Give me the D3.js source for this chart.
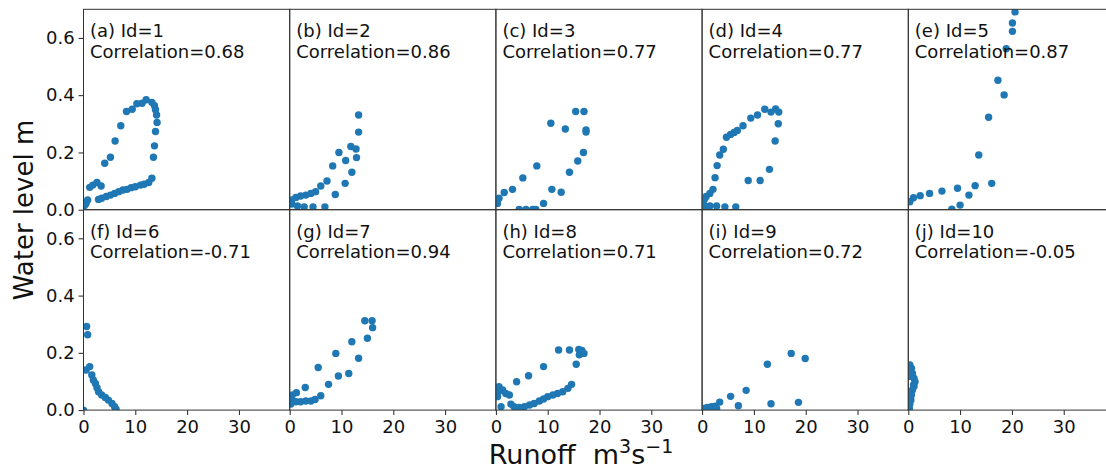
<!DOCTYPE html>
<html>
<head>
<meta charset="utf-8">
<script src="https://cdn.jsdelivr.net/npm/d3@7"></script>
<style>
  body { margin: 0; background: #fff; }
  svg { display: block; font-family: "DejaVu Sans", sans-serif; }
</style>
</head>
<body>
<script>
// panel labels and correlations
let panelLetters = ["a", "b", "c", "d", "e", "f", "g", "h", "i", "j"];
let panelIds = [1, 2, 3, 4, 5, 6, 7, 8, 9, 10];
let correlations = ["0.68", "0.86", "0.77", "0.77", "0.87", "-0.71", "0.94", "0.71", "0.72", "-0.05"];
let xTicks = [0, 10, 20, 30];
let yTicks = [0, 0.2, 0.4, 0.6];

// runoff (m3/s) and water level (m) per station
let runoff1 = [0.2, 0.5, 0.8, 1.2, 1.8, 2.6, 3.4, 4.1, 5.2, 6.1, 7.2, 8.3, 9.4, 10.3, 11.3, 12.1, 13.2, 13.7, 13.9, 14.1, 14.2, 13.9, 13.7, 13.5, 2.9, 3.5, 4.4, 5.2, 6.0, 6.8, 7.6, 8.4, 9.2, 10.0, 11.0, 11.7, 12.6, 13.2];
let level1 = [0.015, 0.022, 0.034, 0.078, 0.086, 0.095, 0.083, 0.162, 0.183, 0.24, 0.293, 0.343, 0.351, 0.37, 0.372, 0.384, 0.375, 0.363, 0.349, 0.331, 0.305, 0.273, 0.223, 0.183, 0.036, 0.04, 0.046, 0.051, 0.057, 0.063, 0.069, 0.071, 0.077, 0.08, 0.086, 0.089, 0.095, 0.11];
let runoff2 = [13.3, 13.3, 11.8, 12.8, 12.9, 9.5, 10.8, 8.3, 12.0, 7.2, 10.7, 8.8, 6.0, 5.0, 4.1, 3.1, 2.1, 1.2, 0.4, 0.4, 1.5, 2.8, 4.5, 6.8];
let level2 = [0.331, 0.271, 0.221, 0.212, 0.182, 0.2, 0.172, 0.153, 0.131, 0.1, 0.092, 0.053, 0.083, 0.063, 0.057, 0.051, 0.048, 0.043, 0.034, 0.02, 0.013, 0.01, 0.01, 0.01];
let runoff3 = [15.4, 17.0, 10.6, 13.4, 17.4, 17.4, 16.9, 15.8, 14.2, 7.9, 5.2, 3.2, 1.6, 0.6, 0.3, 10.8, 12.6, 9.2, 4.5, 5.8, 7.1, 7.7];
let level3 = [0.343, 0.343, 0.302, 0.282, 0.279, 0.271, 0.2, 0.17, 0.131, 0.153, 0.111, 0.071, 0.06, 0.04, 0.022, 0.071, 0.061, 0.022, 0.001, 0.001, 0.001, 0.001];
let runoff4 = [0.4, 0.8, 1.5, 2.1, 2.5, 2.9, 3.4, 4.1, 4.7, 5.5, 6.2, 6.8, 7.9, 9.4, 10.7, 12.1, 13.3, 14.2, 14.8, 14.7, 14.1, 13.0, 11.2, 8.9, 0.5, 1.5, 2.8, 4.4, 6.5];
let level4 = [0.035, 0.046, 0.057, 0.071, 0.112, 0.154, 0.191, 0.211, 0.253, 0.263, 0.27, 0.277, 0.293, 0.32, 0.331, 0.351, 0.341, 0.352, 0.341, 0.3, 0.24, 0.141, 0.102, 0.102, 0.013, 0.013, 0.013, 0.01, 0.01];
let runoff5 = [20.6, 20.1, 20.1, 18.9, 17.3, 18.5, 15.5, 13.6, 16.1, 12.9, 9.5, 6.5, 4.1, 2.3, 1.0, 0.3, 11.7, 10.0, 8.4];
let level5 = [0.691, 0.652, 0.623, 0.562, 0.452, 0.401, 0.323, 0.191, 0.092, 0.084, 0.075, 0.065, 0.057, 0.049, 0.042, 0.028, 0.051, 0.016, 0.002];
let runoff6 = [0.6, 0.8, 1.2, 0.5, 1.6, 1.9, 2.3, 2.6, 2.9, 3.5, 4.2, 4.8, 5.5, 6.0, 6.3, 0];
let level6 = [0.292, 0.263, 0.152, 0.14, 0.123, 0.105, 0.093, 0.078, 0.064, 0.053, 0.044, 0.035, 0.023, 0.012, 0.002, 0];
let runoff7 = [14.5, 15.9, 16.0, 15.0, 12.0, 8.9, 13.3, 11.4, 9.4, 7.5, 5.5, 3.0, 1.3, 0.5, 0.4, 1.2, 2.1, 3.1, 4.1, 4.9, 6.0, 0.2];
let level7 = [0.312, 0.312, 0.288, 0.251, 0.239, 0.198, 0.181, 0.128, 0.119, 0.09, 0.149, 0.079, 0.061, 0.053, 0.037, 0.029, 0.029, 0.032, 0.032, 0.037, 0.05, 0.021];
let runoff8 = [12.1, 14.2, 16.0, 16.6, 17.0, 16.1, 15.5, 9.2, 6.3, 4.0, 14.6, 13.9, 12.9, 11.9, 11.0, 10.0, 9.2, 8.4, 7.4, 6.5, 5.5, 4.5, 3.5, 2.9, 0.6, 1.3, 1.9, 2.6, 0.5, 1.0, 0.3];
let level8 = [0.21, 0.21, 0.212, 0.208, 0.198, 0.193, 0.16, 0.152, 0.12, 0.099, 0.09, 0.076, 0.064, 0.058, 0.053, 0.047, 0.039, 0.032, 0.023, 0.018, 0.012, 0.009, 0.012, 0.021, 0.082, 0.07, 0.058, 0.053, 0.064, 0.012, 0.047];
let runoff9 = [17.2, 19.9, 12.6, 8.5, 5.5, 3.4, 7.0, 13.3, 18.6, 2.5, 1.8, 1.0, 0.4, 2.8];
let level9 = [0.198, 0.18, 0.16, 0.069, 0.048, 0.028, 0.015, 0.022, 0.027, 0.014, 0.012, 0.009, 0.006, 0.006];
let runoff10 = [0.3, 0.6, 0.8, 1.1, 1.3, 1.0, 0.8, 0.6, 0.5, 0.3, 0.2, 0.6, 1.1];
let level10 = [0.158, 0.146, 0.128, 0.111, 0.099, 0.088, 0.07, 0.053, 0.035, 0.021, 0.006, 0.117, 0.082];

let runoffs = [runoff1, runoff2, runoff3, runoff4, runoff5, runoff6, runoff7, runoff8, runoff9, runoff10];
let levels = [level1, level2, level3, level4, level5, level6, level7, level8, level9, level10];

let w = 1106;
let h = 470;
let marginLeft = 83.5;
let marginTop = 9.3;
let panelW = 206.2;
let panelH = 200.4;
let dotColor = "#1f77b4";

let svg = d3.select("body").append("svg").attr("width", w).attr("height", h);

let x = d3.scaleLinear().domain([0, 39.8]).range([0, panelW]);
let y = d3.scaleLinear().domain([0, 0.7]).range([panelH, 0]);

for (let i = 0; i < 10; i++) {
	let col = i % 5;
	let row = Math.floor(i / 5);
	let g = svg.append("g")
		.attr("transform", "translate(" + (marginLeft + col * panelW) + "," + (marginTop + row * panelH) + ")");

	g.append("clipPath").attr("id", "clip" + i)
		.append("rect").attr("width", panelW).attr("height", panelH);

	let pts = runoffs[i].map(function(d, k) { return [d, levels[i][k]]; });

	g.append("g").attr("clip-path", "url(#clip" + i + ")")
		.selectAll("circle")
		.data(pts)
		.enter()
		.append("circle")
		.attr("cx", function(d) { return x(d[0]); })
		.attr("cy", function(d) { return y(d[1]); })
		.attr("r", 3.7)
		.attr("fill", dotColor);

	// axes
	if (row == 1) {
		let ax = g.append("g").attr("transform", "translate(0," + panelH + ")")
			.call(d3.axisBottom(x).tickValues(xTicks).tickSize(4.9).tickPadding(5).tickFormat(d3.format("d")));
		ax.select(".domain").remove();
		ax.selectAll("text").attr("font-size", "18px").attr("fill", "#111").attr("font-family", "DejaVu Sans");
		ax.selectAll("line").attr("stroke", "#222");
	}
	if (col == 0) {
		let ay = g.append("g")
			.call(d3.axisLeft(y).tickValues(yTicks).tickSize(4.9).tickPadding(4).tickFormat(d3.format(".1f")));
		ay.select(".domain").remove();
		ay.selectAll("text").attr("font-size", "18px").attr("fill", "#111").attr("font-family", "DejaVu Sans");
		ay.selectAll("line").attr("stroke", "#222");
	}

	g.append("rect")
		.attr("width", panelW)
		.attr("height", panelH)
		.attr("fill", "none")
		.attr("stroke", "#333")
		.attr("stroke-width", 1);

	g.append("text")
		.attr("x", 6.5)
		.attr("y", 28)
		.attr("font-size", "18px")
		.attr("fill", "#111")
		.text("(" + panelLetters[i] + ") Id=" + panelIds[i]);
	g.append("text")
		.attr("x", 6.5)
		.attr("y", 48.4)
		.attr("font-size", "18px")
		.attr("fill", "#111")
		.text("Correlation=" + correlations[i]);
}

svg.append("text")
	.attr("transform", "translate(33,210) rotate(-90)")
	.attr("text-anchor", "middle")
	.attr("font-size", "26px")
	.attr("fill", "#111")
	.text("Water level m");

let xl = svg.append("text")
	.attr("x", 581)
	.attr("y", 463.5)
	.attr("text-anchor", "middle")
	.attr("font-size", "27px")
	.attr("fill", "#111");
xl.append("tspan").text("Runoff\u00a0\u00a0m");
xl.append("tspan").attr("font-size", "19px").attr("dy", -11).text("3");
xl.append("tspan").attr("dy", 11).text("s");
xl.append("tspan").attr("font-size", "19px").attr("dy", -11).text("\u22121");
</script>
</body>
</html>
